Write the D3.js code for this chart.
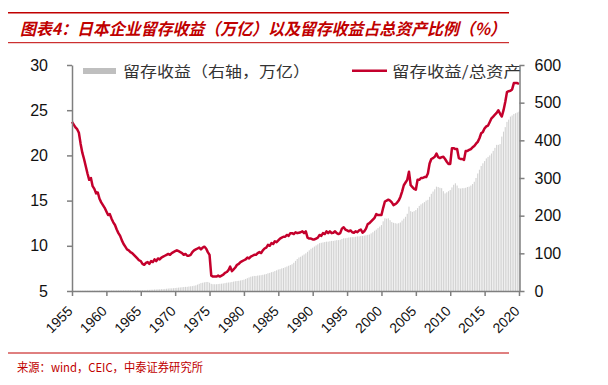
<!DOCTYPE html>
<html><head><meta charset="utf-8">
<script src="https://cdn.jsdelivr.net/npm/d3@7"></script>
<style>
html,body{margin:0;padding:0;background:#fff;}
svg{display:block;}
</style></head>
<body>
<svg id="chart" width="608" height="385"></svg>
<script>
// Quarterly data, 1955Q1 .. 2020Q1
const startYear = 1955;
const ratioPct = [
23.7,23.4,23.1,22.9, 22.5,21.3,20.3,19.6, 18.8,18.0,17.3,17.5, 16.6,16.3,15.8,15.9,
15.2,14.8,14.5,14.2, 13.8,13.4,13.5,13.0, 12.6,12.3,11.8,11.4, 11.1,10.6,10.2,9.9,
9.6,9.5,9.3,9.2, 9.0,8.8,8.6,8.4, 8.3,8.0,7.9,8.1, 8.2,8.0,8.3,8.2,
8.5,8.3,8.6,8.5, 8.7,8.8,8.9,9.0, 9.1,9.0,9.2,9.3, 9.4,9.5,9.4,9.3,
9.2,9.0,9.1,8.9, 8.9,9.0,9.3,9.5, 9.6,9.7,9.8,9.6, 9.8,9.9,9.7,9.3,
9.0,6.7,6.6,6.6, 6.6,6.7,6.6,6.7, 6.8,7.0,7.1,7.3, 7.7,7.2,7.4,7.6,
7.9,8.0,8.2,8.3, 8.4,8.5,8.7,8.6, 8.8,8.9,9.0,9.0, 9.2,9.3,9.2,9.5,
9.7,9.8,10.1,10.0, 10.3,10.2,10.5,10.4, 10.6,10.8,10.9,11.0, 11.0,11.2,11.1,11.4,
11.4,11.3,11.5,11.4, 11.45,11.5,11.6,11.4, 11.6,10.9,10.8,10.8, 10.7,10.7,10.8,10.9,
11.2,11.1,11.4,11.3, 11.6,11.4,11.6,11.4, 11.45,11.6,11.4,11.3, 11.4,11.9,12.05,11.8,
11.7,11.6,11.7,11.5, 11.45,11.6,11.5,11.7, 11.8,11.45,11.6,11.9, 12.4,12.5,12.7,12.9,
13.1,13.5,13.4,13.4, 13.4,14.2,14.9,15.0, 15.1,15.0,14.8,14.5, 14.6,14.75,15.0,15.4,
16.0,16.7,17.0,17.3, 18.2,16.7,16.5,16.3, 16.2,17.3,17.3,17.5, 17.5,17.6,17.6,18.0,
19.1,19.6,19.7,19.85, 20.2,19.8,19.7,19.8, 19.85,19.6,19.3,19.05, 19.05,20.8,20.8,20.7,
20.7,19.7,19.6,19.6, 19.5,20.5,20.5,20.6, 20.7,20.9,21.05,21.3, 21.5,21.9,22.45,22.6,
23.0,23.2,23.3,23.7, 24.1,24.3,24.5,24.7, 25.0,24.6,24.3,25.0, 25.9,27.0,27.1,27.15,
27.3,28.0,28.0,28.0, 27.9
];
const retainedEarnings = [
0.5,0.5,0.6,0.6, 0.7,0.7,0.8,0.8, 0.9,0.9,1.0,1.0, 1.0,1.1,1.1,1.2,
1.2,1.2,1.3,1.3, 1.4,1.4,1.5,1.5, 1.6,1.6,1.7,1.7, 1.8,1.8,1.9,1.9,
2.0,2.0,2.1,2.1, 2.2,2.2,2.3,2.3, 2.4,2.5,2.5,2.6, 3,3,3.5,3.5,
4,4,4.5,4.5, 5,5,5.5,6, 6.5,7,7,7.5, 8,8.5,9,9.5,
10,10.5,11,11, 12,12.5,13,14, 15,17,19,21, 22,23,24,24,
22,19,18,18, 18,18.5,19,19.5, 20,21,22,22.5, 23,24,25,26,
26.5,27,28,29, 30,32,34,36, 38,39,40,40, 41,41.5,42,43,
44,45,47,48, 50,51,53,55, 57,58,60,61, 63,65,67,69,
71,75,80,85, 89,91,94,97, 100,104,108,112, 115,118,121,124,
127,128,129,130, 131,131,132,133, 133,134,135,135, 136,138,140,140,
141,142,142.5,143, 143,144,145,145, 146,146,147,148, 149,150,153,156,
160,163,167,171, 175,185,193,192, 193,188,183,181, 180,179,180,182,
187,192,197,205, 224,212,210,212, 215,220,226,230, 233,236,240,242,
250,258,264,270, 277,276,274,273, 265,259,262,265, 268,275,282,286,
280,273,272,273, 273,274,276,277, 280,284,290,300, 312,322,332,339,
345,352,356,360, 365,372,380,388, 388,390,410,423, 435,449,455,463,
466,470,472,474, 476
];
const leftTicks = [5,10,15,20,25,30];
const rightTicks = [0,100,200,300,400,500,600];
const xTickYears = [1955,1960,1965,1970,1975,1980,1985,1990,1995,2000,2005,2010,2015,2020];
const titleText = "图表4：日本企业留存收益（万亿）以及留存收益占总资产比例（%）";
const sourceText = "来源：wind，CEIC，中泰证券研究所";
const legendBar = "留存收益（右轴，万亿）";
const legendLine = "留存收益/总资产";

const svg = d3.select("#chart");
const red = "#C00000";
const lineRed = "#C4002C";
const L = 72, R = 519.5, T = 65, B = 291;

// header / footer rules
svg.append("line").attr("x1",8).attr("x2",509).attr("y1",12.7).attr("y2",12.7).attr("stroke",red).attr("stroke-width",1.5);
svg.append("line").attr("x1",8).attr("x2",509).attr("y1",42.7).attr("y2",42.7).attr("stroke",red).attr("stroke-width",1);
svg.append("text").attr("x",20).attr("y",35).text(titleText)
  .attr("font-family","'Noto Sans CJK SC'").attr("font-weight","bold").attr("font-style","italic")
  .attr("font-size",16.5).attr("fill",red).attr("textLength",486).attr("lengthAdjust","spacingAndGlyphs");
svg.append("line").attr("x1",8).attr("x2",509).attr("y1",353).attr("y2",353).attr("stroke",red).attr("stroke-width",1);
svg.append("text").attr("x",17).attr("y",372).text(sourceText)
  .attr("font-family","'Noto Sans CJK SC'").attr("font-size",12).attr("fill",red)
  .attr("textLength",186).attr("lengthAdjust","spacingAndGlyphs");

const x = d3.scaleLinear().domain([1955, 2020]).range([L, 519]);
const yL = d3.scaleLinear().domain([5, 30]).range([B, T]);
const yR = d3.scaleLinear().domain([0, 600]).range([B, T]);
const tOf = i => startYear + i / 4;

// bars
svg.append("g").selectAll("rect").data(retainedEarnings).join("rect")
  .attr("x", (d,i) => x(tOf(i)) - 0.55)
  .attr("width", 1.1)
  .attr("y", d => yR(d))
  .attr("height", d => B - yR(d))
  .attr("fill", "#d2d2d2");

// line
const line = d3.line().x((d,i) => x(tOf(i))).y(d => yL(d));
svg.append("path").datum(ratioPct).attr("d", line)
  .attr("fill","none").attr("stroke",lineRed).attr("stroke-width",2.5).attr("stroke-linejoin","round");

const axisColor = "#7f7f7f";
function styleAxis(g, fs) {
  g.select(".domain").attr("stroke", axisColor).attr("stroke-width", 1.5);
  g.selectAll(".tick line").attr("stroke", axisColor).attr("stroke-width", 1.5);
  g.selectAll(".tick text").attr("font-family","'Liberation Sans', Arial, sans-serif").attr("font-size", fs).attr("fill","#111");
}
const gl = svg.append("g").attr("transform",`translate(${L},0)`)
  .call(d3.axisLeft(yL).tickValues(leftTicks).tickSize(5).tickSizeOuter(0).tickPadding(19));
styleAxis(gl, 16);
const gr = svg.append("g").attr("transform",`translate(${R},0)`)
  .call(d3.axisRight(yR).tickValues(rightTicks).tickSize(5).tickSizeOuter(0).tickPadding(10));
styleAxis(gr, 16);
const gb = svg.append("g").attr("transform",`translate(0,${B})`)
  .call(d3.axisBottom(x).tickValues(xTickYears).tickFormat(d3.format("d")).tickSize(5).tickSizeOuter(0));
styleAxis(gb, 14);
gb.selectAll(".tick text")
  .attr("text-anchor","end")
  .attr("transform","translate(1,21) rotate(-45)")
  .attr("y",0).attr("dy","0");

// legend
svg.append("rect").attr("x",83).attr("y",68).attr("width",33).attr("height",6).attr("fill","#bfbfbf");
svg.append("text").attr("x",123).attr("y",77).text(legendBar)
  .attr("font-family","'Noto Sans CJK SC'").attr("font-size",15).attr("fill","#333")
  .attr("textLength",187).attr("lengthAdjust","spacingAndGlyphs");
svg.append("line").attr("x1",352).attr("x2",387).attr("y1",70.7).attr("y2",70.7).attr("stroke",lineRed).attr("stroke-width",2.5);
svg.append("text").attr("x",392).attr("y",77).text(legendLine)
  .attr("font-family","'Noto Sans CJK SC'").attr("font-size",15).attr("fill","#333")
  .attr("textLength",129).attr("lengthAdjust","spacingAndGlyphs");
</script>
</body></html>
